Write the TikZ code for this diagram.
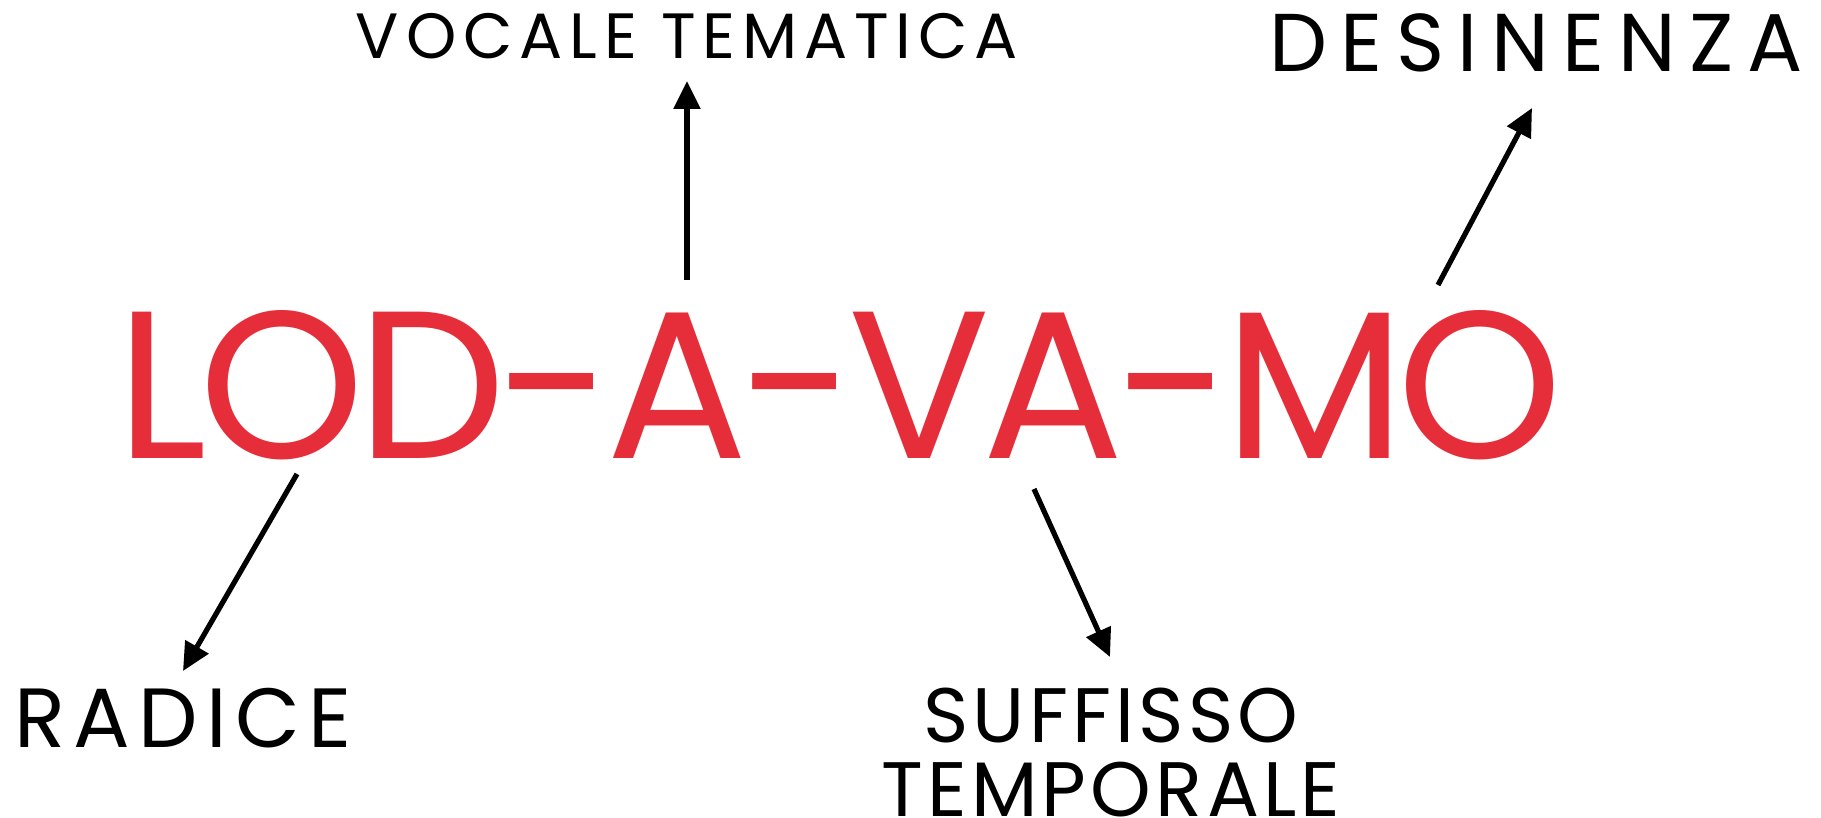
\documentclass[tikz,border=0pt]{standalone}
\usepackage{fontspec}
\setmainfont{Poppins}
\usetikzlibrary{arrows.meta}
\definecolor{wordred}{RGB}{230,45,58}
\begin{document}
\begin{tikzpicture}[x=0.5pt,y=-0.5pt, >={Triangle[length=14pt,width=13pt]}]
        \tikzstyle{every node} = [rectangle, inner sep=0pt]
        \tikzstyle{tag} = [anchor=base, font=\fontsize{32}{38}\selectfont\addfontfeature{LetterSpace=10.8}]
        \useasboundingbox (0,0) rectangle (1821,818);

        \node[anchor=base, text=wordred, font=\fontsize{105}{120}\selectfont\addfontfeature{LetterSpace=-3.6}] (w) at (839.5,458) {LOD-A-VA-MO};
        \node[tag] (v) at (687,59) {VOCALE TEMATICA};
        \node[tag, font=\fontsize{41}{48}\selectfont\addfontfeature{LetterSpace=16.5}] (d) at (1536,72) {DESINENZA};
        \node[tag, font=\fontsize{42}{48}\selectfont\addfontfeature{LetterSpace=10}] (r) at (183,747) {RADICE};
        \node[anchor=north, align=center, font=\fontsize{38.6}{37}\selectfont\addfontfeature{LetterSpace=5.5}] (s) at (1111,688) {SUFFISSO\\TEMPORALE};

        \coordinate (r0) at (297,474);  \coordinate (r1) at (183,671);
        \coordinate (v0) at (687,280);  \coordinate (v1) at (687,81);
        \coordinate (s0) at (1034,489); \coordinate (s1) at (1110,657);
        \coordinate (d0) at (1438,285); \coordinate (d1) at (1532,108);

        \foreach \from/\to in {r0/r1, v0/v1, s0/s1, d0/d1}
            \draw[->, line width=2.6pt] (\from) -- (\to);
      \end{tikzpicture}
\end{document}
